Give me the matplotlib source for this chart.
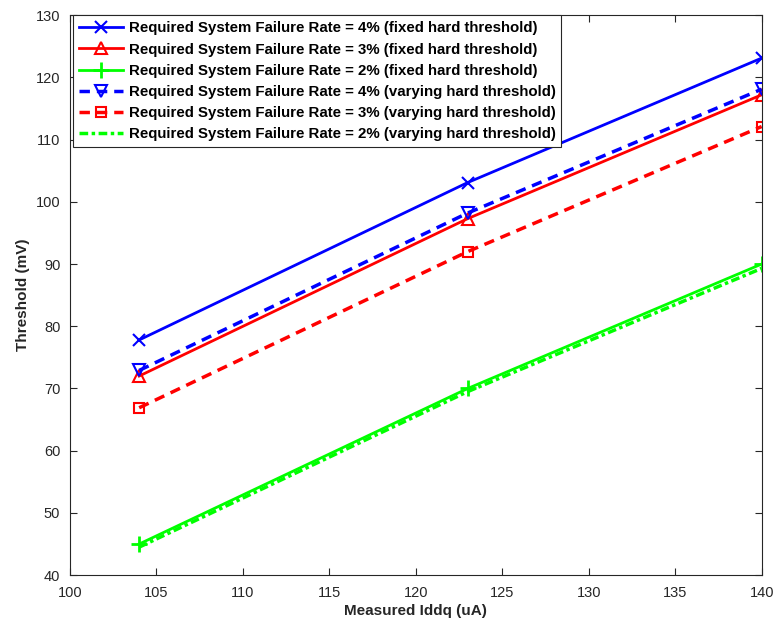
import matplotlib
matplotlib.use("Agg")
import matplotlib.pyplot as plt

iddq = [104, 123, 140]
fixed_4 = [77.8, 103.1, 123.1]
fixed_3 = [72.0, 97.3, 117.2]
fixed_2 = [45.0, 70.0, 90.0]
vary_4 = [72.9, 98.2, 118.1]
vary_3 = [66.9, 92.0, 112.1]
vary_2 = [44.5, 69.5, 89.3]

labels = [
    "Required System Failure Rate = 4% (fixed hard threshold)",
    "Required System Failure Rate = 3% (fixed hard threshold)",
    "Required System Failure Rate = 2% (fixed hard threshold)",
    "Required System Failure Rate = 4% (varying hard threshold)",
    "Required System Failure Rate = 3% (varying hard threshold)",
    "Required System Failure Rate = 2% (varying hard threshold)",
]

plt.rcParams['font.family'] = ['Liberation Sans', 'DejaVu Sans']

fig = plt.figure(figsize=(7.78, 6.32), dpi=100)
ax = fig.add_axes([0.09, 0.09, 0.889, 0.886])

lw = 2.0
ax.plot(iddq, fixed_4, color=(0, 0, 1), ls='-', lw=lw, marker='x', ms=8, mew=1.5, label=labels[0])
ax.plot(iddq, fixed_3, color=(1, 0, 0), ls='-', lw=lw, marker='^', ms=9, mew=1.5, mfc='none', label=labels[1])
ax.plot(iddq, fixed_2, color=(0, 1, 0), ls='-', lw=lw, marker='+', ms=11, mew=2, label=labels[2])
ax.plot(iddq, vary_4, color=(0, 0, 1), ls=(0, (3, 2)), lw=lw + 0.5, marker='v', ms=9, mew=1.5, mfc='none', label=labels[3])
ax.plot(iddq, vary_3, color=(1, 0, 0), ls=(0, (3, 2)), lw=lw + 0.5, marker='s', ms=7, mew=1.5, mfc='none', label=labels[4])
ax.plot(iddq, vary_2, color=(0, 1, 0), ls=(0, (2.5, 1, 1, 1)), lw=lw + 0.5, label=labels[5])

ax.set_xlim(100, 140)
ax.set_ylim(40, 130)
ax.set_xticks(range(100, 141, 5))
ax.set_yticks(range(40, 131, 10))
ax.tick_params(direction='in', top=True, right=True, labelsize=10.5, colors='#262626', length=5)
ax.tick_params(axis='x', pad=8)
ax.tick_params(axis='y', pad=7)
for s in ax.spines.values():
    s.set_color('#262626')
    s.set_linewidth(0.8)
ax.set_xlabel("Measured Iddq (uA)", fontsize=11, fontweight='bold', color='#262626', labelpad=3)
ax.set_ylabel("Threshold (mV)", fontsize=11, fontweight='bold', color='#262626', labelpad=4)

leg = ax.legend(loc='upper left', bbox_to_anchor=(0.0, 1.005), prop={'weight': 'bold', 'size': 10.8},
                fancybox=False, framealpha=1, edgecolor='#262626', handlelength=2.9,
                borderaxespad=0.2, labelspacing=0.48, handletextpad=0.4, borderpad=0.4)
leg.get_frame().set_linewidth(0.8)

fig.savefig("out.png", dpi=100)
